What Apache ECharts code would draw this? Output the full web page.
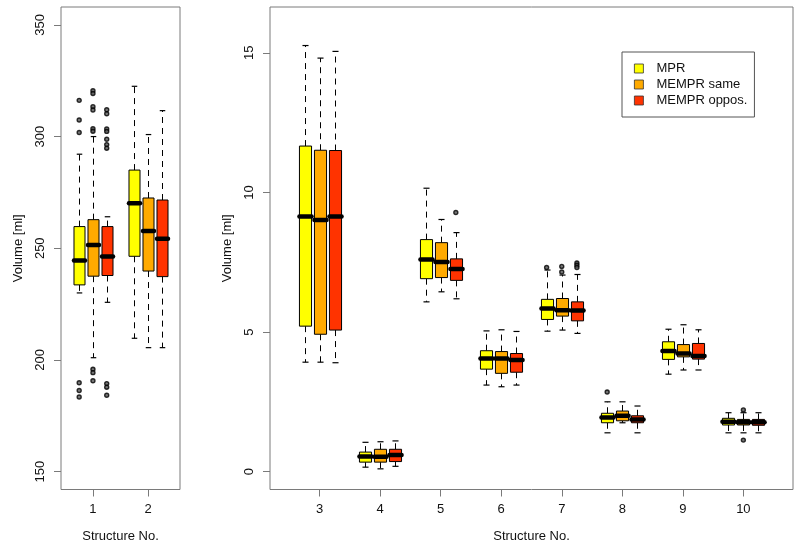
<!DOCTYPE html>
<html>
<head>
<meta charset="utf-8">
<script src="https://cdn.jsdelivr.net/npm/echarts@6/dist/echarts.min.js"></script>
<style>html,body{margin:0;padding:0;background:#fff}#c{width:800px;height:550px}</style>
</head>
<body>
<div id="c"></div>
<script>
// ---- data ----
const structuresLeft = [1, 2];
const structuresRight = [3, 4, 5, 6, 7, 8, 9, 10];
const methods = ['MPR', 'MEMPR same', 'MEMPR oppos.'];
const leftTicksY = [150, 200, 250, 300, 350];
const rightTicksY = [0, 5, 10, 15];

// [low whisker, Q1, median, Q3, high whisker] for structures 1..10
const mprStats = [
  [230.0, 233.6, 244.5, 259.7, 292.1],
  [209.7, 246.4, 270.2, 285.0, 322.5],
  [3.92, 5.21, 9.14, 11.66, 15.26],
  [0.16, 0.34, 0.54, 0.70, 1.05],
  [6.08, 6.91, 7.60, 8.31, 10.15],
  [3.10, 3.67, 4.05, 4.33, 5.04],
  [5.03, 5.45, 5.84, 6.17, 7.22],
  [1.39, 1.75, 1.94, 2.09, 2.50],
  [3.49, 4.02, 4.32, 4.65, 5.10],
  [1.39, 1.67, 1.79, 1.91, 2.11]
];
const memprSameStats = [
  [201.0, 237.5, 251.4, 262.8, 300.0],
  [205.5, 239.8, 257.7, 272.5, 300.9],
  [3.92, 4.92, 9.01, 11.51, 14.81],
  [0.10, 0.34, 0.53, 0.80, 1.07],
  [6.44, 6.95, 7.51, 8.20, 9.03],
  [3.04, 3.52, 4.05, 4.30, 5.08],
  [5.07, 5.57, 5.78, 6.20, 7.04],
  [1.75, 1.82, 2.00, 2.17, 2.50],
  [3.64, 4.11, 4.23, 4.55, 5.26],
  [1.39, 1.67, 1.77, 1.87, 2.11]
];
const memprOpposStats = [
  [225.8, 237.8, 246.3, 259.7, 264.1],
  [205.5, 237.3, 254.2, 271.6, 311.6],
  [3.90, 5.07, 9.14, 11.50, 15.05],
  [0.19, 0.36, 0.60, 0.80, 1.10],
  [6.19, 6.85, 7.26, 7.62, 8.56],
  [3.10, 3.56, 4.00, 4.23, 5.02],
  [4.95, 5.40, 5.77, 6.08, 7.06],
  [1.39, 1.75, 1.87, 2.00, 2.35],
  [3.64, 4.03, 4.14, 4.59, 5.08],
  [1.39, 1.66, 1.77, 1.87, 2.11]
];
// outliers: [structure, value]
const mprOutliers = [[1, 316.2], [1, 307.4], [1, 301.8], [1, 189.8], [1, 186.3], [1, 183.4], [7, 7.31], [8, 2.85]];
const memprSameOutliers = [[1, 320.5], [1, 319.3], [1, 313.4], [1, 311.9], [1, 303.5], [1, 302.4], [1, 195.8], [1, 194.3], [1, 190.7], [7, 7.35], [7, 7.15], [10, 2.21], [10, 1.13]];
const memprOpposOutliers = [[1, 312.0], [1, 310.2], [1, 303.4], [1, 302.3], [1, 298.8], [1, 296.4], [1, 294.8], [1, 189.4], [1, 187.8], [1, 184.2], [5, 9.28], [7, 7.47], [7, 7.39], [7, 7.31]];

const colors = ['#FFFF00', '#FFAA00', '#FF3300'];
const offsets = [-0.25, 0, 0.25];
const BOX_W = 0.2;
const FONT = '"Liberation Sans", Arial, Helvetica, sans-serif';
const TXT = '#111';
const FRAME = '#7a7a7a';

const allStats = [mprStats, memprSameStats, memprOpposStats];
const allOutliers = [mprOutliers, memprSameOutliers, memprOpposOutliers];

function makeRender(offset, color) {
  return function (params, api) {
    const s = api.value(0);
    const low = api.value(1), q1 = api.value(2), med = api.value(3), q3 = api.value(4), high = api.value(5);
    const x = s + offset;
    const half = api.size([BOX_W, 0])[0] / 2;
    const capHalf = half / 2;
    const pLow = api.coord([x, low]), pQ1 = api.coord([x, q1]), pMed = api.coord([x, med]),
          pQ3 = api.coord([x, q3]), pHigh = api.coord([x, high]);
    const cx = Math.round(pMed[0]) + 0.5;
    const dash = { stroke: '#000', lineWidth: 1, lineDash: [6, 5] };
    const solid = { stroke: '#000', lineWidth: 1.2 };
    return {
      type: 'group',
      children: [
        { type: 'line', shape: { x1: cx, y1: pQ3[1], x2: cx, y2: pHigh[1] }, style: dash },
        { type: 'line', shape: { x1: cx, y1: pQ1[1], x2: cx, y2: pLow[1] }, style: dash },
        { type: 'line', shape: { x1: cx - capHalf, y1: pHigh[1], x2: cx + capHalf, y2: pHigh[1] }, style: solid },
        { type: 'line', shape: { x1: cx - capHalf, y1: pLow[1], x2: cx + capHalf, y2: pLow[1] }, style: solid },
        { type: 'rect', shape: { x: cx - half, y: pQ3[1], width: 2 * half, height: pQ1[1] - pQ3[1] },
          style: { fill: color, stroke: '#000', lineWidth: 1 } },
        { type: 'line', shape: { x1: cx - half, y1: pMed[1], x2: cx + half, y2: pMed[1] },
          style: { stroke: '#000', lineWidth: 4.5, lineCap: 'round' } }
      ]
    };
  };
}

const series = [];
methods.forEach(function (m, k) {
  [0, 1].forEach(function (panel) {
    const list = panel === 0 ? structuresLeft : structuresRight;
    const data = list.map(function (s) { return [s].concat(allStats[k][s - 1]); });
    series.push({
      name: m, type: 'custom', xAxisIndex: panel, yAxisIndex: panel,
      renderItem: makeRender(offsets[k], colors[k]),
      itemStyle: { color: colors[k] },
      encode: { x: 0, y: [1, 2, 3, 4, 5] },
      data: data, z: 2, clip: false
    });
    const outs = allOutliers[k].filter(function (o) { return panel === 0 ? o[0] <= 2 : o[0] > 2; })
      .map(function (o) { return [o[0] + offsets[k], o[1]]; });
    series.push({
      name: m + ' outliers', type: 'scatter', xAxisIndex: panel, yAxisIndex: panel,
      symbol: 'circle', symbolSize: 4,
      itemStyle: { color: '#555', borderColor: '#000', borderWidth: 1.4 },
      data: outs, z: 3, silent: true
    });
  });
});

function xAxis(idx, min, max, ticks) {
  return {
    type: 'value', gridIndex: idx, min: min, max: max,
    axisLine: { show: false, onZero: false }, splitLine: { show: false },
    axisTick: { show: true, customValues: ticks, length: 7, lineStyle: { color: FRAME, width: 1 } },
    axisLabel: { customValues: ticks, margin: 13, fontSize: 13, color: TXT, fontFamily: FONT },
    name: 'Structure No.', nameLocation: 'middle', nameGap: 40,
    nameTextStyle: { fontSize: 13, color: TXT, fontFamily: FONT }
  };
}
function yAxis(idx, min, max, ticks) {
  return {
    type: 'value', gridIndex: idx, min: min, max: max,
    axisLine: { show: false, onZero: false }, splitLine: { show: false },
    axisTick: { show: true, customValues: ticks, length: 7, lineStyle: { color: FRAME, width: 1 } },
    axisLabel: { customValues: ticks, margin: 14, rotate: 90, fontSize: 13, color: TXT, fontFamily: FONT },
    name: 'Volume [ml]', nameLocation: 'middle', nameGap: 36, nameRotate: 90,
    nameTextStyle: { fontSize: 13, color: TXT, fontFamily: FONT }
  };
}

const chart = echarts.init(document.getElementById('c'), null, { renderer: 'canvas' });
chart.setOption({
  animation: false,
  backgroundColor: '#fff',
  grid: [
    { left: 61, top: 7, width: 119, height: 482.5, show: true, borderColor: FRAME, borderWidth: 1, backgroundColor: 'rgba(0,0,0,0)' },
    { left: 270, top: 7, width: 523, height: 482.5, show: true, borderColor: FRAME, borderWidth: 1, backgroundColor: 'rgba(0,0,0,0)' }
  ],
  xAxis: [xAxis(0, 0.42, 2.58, structuresLeft), xAxis(1, 2.18, 10.82, structuresRight)],
  yAxis: [yAxis(0, 142, 358, leftTicksY), yAxis(1, -0.64, 16.64, rightTicksY)],
  legend: {
    orient: 'vertical', left: 622, top: 52,
    padding: [10, 7, 10, 12], itemGap: 3,
    itemWidth: 9, itemHeight: 9, icon: 'rect',
    borderColor: '#555', borderWidth: 1, backgroundColor: '#fff',
    textStyle: { fontSize: 13, color: TXT, fontFamily: FONT, padding: [0, 0, 0, 8], lineHeight: 13 },
    data: methods.map(function (m, k) {
      return { name: m, itemStyle: { color: colors[k], borderColor: '#333', borderWidth: 0.8 } };
    }),
    selectedMode: false
  },
  series: series
});
</script>
</body>
</html>
